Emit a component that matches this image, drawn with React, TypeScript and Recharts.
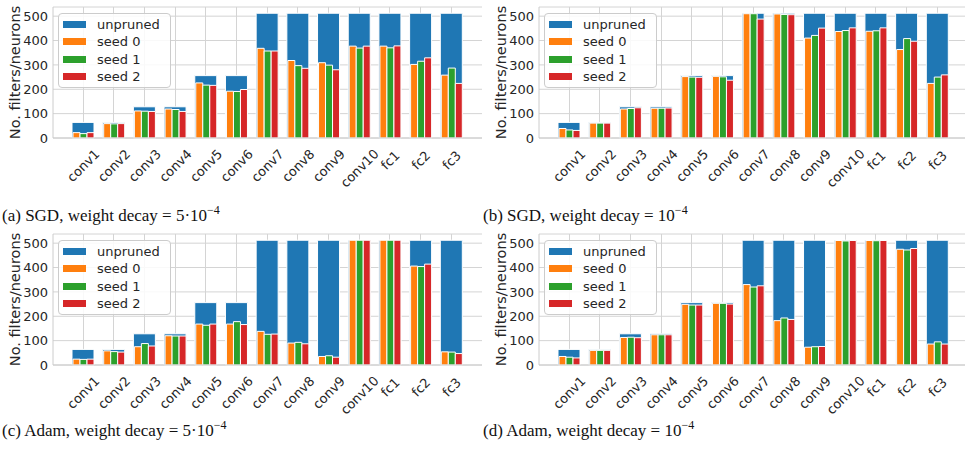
import React from 'react';
import { BarChart, Bar, XAxis, YAxis, CartesianGrid, Legend } from 'recharts';

const layers = ['conv1', 'conv2', 'conv3', 'conv4', 'conv5', 'conv6', 'conv7', 'conv8', 'conv9', 'conv10', 'fc1', 'fc2', 'fc3'];
const unpruned = [64, 64, 128, 128, 256, 256, 512, 512, 512, 512, 512, 512, 512];
const yTicks = [0, 100, 200, 300, 400, 500];

// (a) SGD, weight decay 5e-4
const sgd5Seed0 = [22, 59, 111, 119, 226, 192, 368, 318, 309, 377, 377, 302, 258];
const sgd5Seed1 = [18, 58, 110, 117, 217, 191, 357, 297, 299, 369, 370, 315, 287];
const sgd5Seed2 = [22, 59, 109, 109, 216, 199, 357, 286, 280, 377, 378, 329, 224];
// (b) SGD, weight decay 1e-4
const sgd1Seed0 = [39, 61, 119, 122, 252, 253, 510, 509, 410, 437, 438, 363, 224];
const sgd1Seed1 = [33, 61, 121, 122, 250, 251, 510, 507, 421, 441, 440, 408, 250];
const sgd1Seed2 = [31, 61, 124, 123, 249, 237, 488, 506, 451, 452, 452, 397, 259];
// (c) Adam, weight decay 5e-4
const adam5Seed0 = [24, 58, 75, 120, 168, 168, 138, 90, 35, 512, 512, 406, 54];
const adam5Seed1 = [23, 55, 88, 119, 163, 178, 126, 93, 38, 512, 512, 404, 53];
const adam5Seed2 = [24, 53, 78, 119, 168, 166, 127, 87, 32, 512, 512, 414, 47];
// (d) Adam, weight decay 1e-4
const adam1Seed0 = [35, 60, 113, 124, 249, 253, 330, 182, 73, 511, 511, 475, 86];
const adam1Seed1 = [32, 60, 114, 124, 246, 253, 320, 193, 75, 509, 510, 472, 95];
const adam1Seed2 = [29, 60, 112, 124, 246, 250, 325, 187, 76, 511, 511, 478, 86];

const series = [
  { key: 'unpruned', name: 'unpruned', color: '#1f77b4' },
  { key: 'seed0', name: 'seed 0', color: '#ff7f0e' },
  { key: 'seed1', name: 'seed 1', color: '#2ca02c' },
  { key: 'seed2', name: 'seed 2', color: '#d62728' },
];

const FONT = '"DejaVu Sans", sans-serif';
const TEXT = '#262626';
const GRID = '#d4d4d4';
const FRAME = '#cccccc';
const Y_MAX = 537.6;

// the vertical grid line of each category, drawn as the unpruned bar's background
// (snapped to a whole pixel so it is not smeared into two faint columns)
function GridLine(props: any) {
  const { x, y, width, height } = props;
  if (![x, y, width, height].every((v) => Number.isFinite(v))) return null;
  const cx = Math.round(x + width / 2 - 0.5);
  return <rect x={cx} y={y} width={1} height={height} fill={GRID} />;
}

function XTick({ x, y, payload }: any) {
  const label = String(payload.value);
  const w = label.length * 7.6;
  const d = ((w + 12) * 0.7071) / 2;
  const cy = y + d;
  return (
    <text x={x} y={cy} textAnchor="middle" dominantBaseline="central" transform={`rotate(-45, ${x}, ${cy})`}
      fontSize={13} fontFamily={FONT} fill={TEXT}>
      {label}
    </text>
  );
}

function YLabel(props: any) {
  const vb = props.viewBox;
  const cx = vb.x + 15;
  const cy = vb.y + vb.height / 2;
  return (
    <text x={cx} y={cy} textAnchor="middle" dominantBaseline="central" transform={`rotate(-90, ${cx}, ${cy})`}
      fontSize={14.5} fontFamily={FONT} fill={TEXT}>
      No. filters/neurons
    </text>
  );
}

function LegendBox() {
  return (
    <div style={{
      border: '1px solid #cccccc', borderRadius: 4, background: 'rgba(255,255,255,0.85)',
      padding: '2px 10px 2px 4px', fontFamily: FONT, fontSize: 13, color: TEXT,
    }}>
      {series.map((s) => (
        <div key={s.key} style={{ display: 'flex', alignItems: 'center', height: 17.3 }}>
          <span style={{ display: 'inline-block', width: 23, height: 7, background: s.color, marginRight: 11 }} />
          <span>{s.name}</span>
        </div>
      ))}
    </div>
  );
}

function Panel({ seeds, left, top }: { seeds: number[][]; left: number; top: number }) {
  const data = layers.map((layer, i) => ({
    layer,
    unpruned: unpruned[i],
    seed0: seeds[0][i],
    seed1: seeds[1][i],
    seed2: seeds[2][i],
  }));
  const pad = { left: 15, right: 15 };
  return (
    <div style={{ position: 'absolute', left, top }}>
      <BarChart width={490} height={200} data={data} margin={{ top: 7, right: 8, bottom: 0, left: 0 }}
        barGap={0} barCategoryGap={0}>
        <CartesianGrid stroke={GRID} vertical={false} />
        <XAxis dataKey="layer" height={62} padding={pad} interval={0} tickSize={0} tickMargin={10}
          tick={<XTick />} tickLine={false} axisLine={{ stroke: FRAME }} />
        {/* top axis: draws the top frame edge, and positions the seed bars */}
        <XAxis xAxisId="t" orientation="top" dataKey="layer" height={0} padding={pad} interval={0} tick={false}
          tickLine={false} axisLine={{ stroke: FRAME }} />
        <YAxis type="number" domain={[0, Y_MAX]} ticks={yTicks} width={53} tickSize={0} tickMargin={5}
          tickLine={false} axisLine={{ stroke: FRAME }}
          tick={{ fontSize: 13, fontFamily: FONT, fill: TEXT }} label={(p: any) => <YLabel {...p} />} />
        <YAxis yAxisId="r" orientation="right" type="number" domain={[0, Y_MAX]} width={0} tick={false}
          tickLine={false} axisLine={{ stroke: FRAME }} />
        <Legend layout="vertical" align="center" verticalAlign="middle" content={() => <LegendBox />}
          wrapperStyle={{ left: 58, top: 13, width: 'auto', height: 'auto' }} />
        <Bar dataKey="unpruned" name="unpruned" fill={series[0].color} barSize={22}
          stroke="#ffffff" strokeWidth={1} background={(p: any) => <GridLine {...p} />} isAnimationActive={false} />
        {series.slice(1).map((s) => (
          <Bar key={s.key} xAxisId="t" dataKey={s.key} name={s.name} fill={s.color} barSize={7}
            stroke="#ffffff" strokeWidth={1} isAnimationActive={false} />
        ))}
      </BarChart>
    </div>
  );
}

function Caption({ tag, opt, factor, left, top }: { tag: string; opt: string; factor: string; left: number; top: number }) {
  return (
    <div style={{
      position: 'absolute', left, top, fontFamily: '"Liberation Serif", serif', fontSize: 17,
      lineHeight: '20px', color: '#111', whiteSpace: 'nowrap',
    }}>
      ({tag}) {opt}, weight decay = {factor}10
      <span style={{ fontSize: 12, position: 'relative', top: -7 }}>−4</span>
    </div>
  );
}

export default function App() {
  return (
    <div style={{ position: 'fixed', left: 0, top: 0, width: 965, height: 456, overflow: 'hidden', background: '#fff' }}>
      <Panel seeds={[sgd5Seed0, sgd5Seed1, sgd5Seed2]} left={0} top={0} />
      <Panel seeds={[sgd1Seed0, sgd1Seed1, sgd1Seed2]} left={486} top={0} />
      <Panel seeds={[adam5Seed0, adam5Seed1, adam5Seed2]} left={0} top={227} />
      <Panel seeds={[adam1Seed0, adam1Seed1, adam1Seed2]} left={486} top={227} />
      <Caption tag="a" opt="SGD" factor="5·" left={2} top={206} />
      <Caption tag="b" opt="SGD" factor="" left={483} top={206} />
      <Caption tag="c" opt="Adam" factor="5·" left={2} top={421} />
      <Caption tag="d" opt="Adam" factor="" left={483} top={421} />
    </div>
  );
}
